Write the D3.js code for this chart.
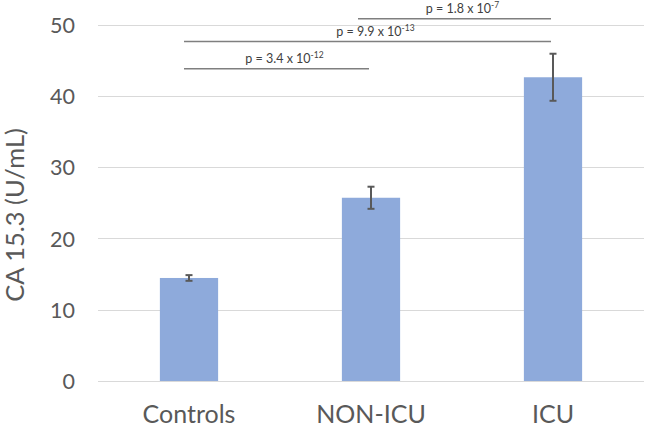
<!DOCTYPE html>
<html><head><meta charset="utf-8">
<script src="https://cdn.jsdelivr.net/npm/d3@7"></script>
<style>body{margin:0;background:#fff}svg{display:block}</style>
</head><body>
<svg id="chart" width="645" height="430"></svg>
<script>
const categories = ["Controls", "NON-ICU", "ICU"];
const means = [14.45, 25.7, 42.6];
const errors = [0.4, 1.55, 3.3];
const yTicks = [0, 10, 20, 30, 40, 50];
const compFrom = ["Controls", "Controls", "NON-ICU"];
const compTo = ["NON-ICU", "ICU", "ICU"];
const compLevel = [43.8, 47.6, 50.8];
const compMantissa = ["3.4", "9.9", "1.8"];
const compExponent = ["-12", "-13", "-7"];
const yTitle = "CA 15.3 (U/mL)";

const svg = d3.select("#chart");
const font = "Lato, 'Open Sans', sans-serif";
const textColor = "#595959";

const x = d3.scaleBand().domain(categories).range([98, 644]).paddingInner(0.68).paddingOuter(0.34);
const y = d3.scaleLinear().domain([0, 50]).range([381, 24.5]);

// gridlines
svg.append("g").selectAll("line").data(yTicks).join("line")
  .attr("x1", 98).attr("x2", 644)
  .attr("y1", d => Math.round(y(d)) + 0.5).attr("y2", d => Math.round(y(d)) + 0.5)
  .attr("stroke", "#d9d9d9").attr("stroke-width", 1.2);

// y axis labels
const yAxis = d3.axisLeft(y).tickValues(yTicks).tickSize(0).tickPadding(0);
const gy = svg.append("g").attr("transform", "translate(75,0)").call(yAxis);
gy.select(".domain").remove();
gy.selectAll("text").attr("font-family", font).attr("font-size", 21.5).attr("fill", textColor).attr("dy", "0.36em");

// x axis labels
const xAxis = d3.axisBottom(x).tickSize(0).tickPadding(0);
const gx = svg.append("g").attr("transform", "translate(0,423)").call(xAxis);
gx.select(".domain").remove();
gx.selectAll("text").attr("font-family", font).attr("font-size", 25).attr("fill", textColor).attr("dy", 0);

// bars
svg.append("g").selectAll("rect").data(categories).join("rect")
  .attr("x", d => x(d)).attr("width", x.bandwidth())
  .attr("y", (d, i) => y(means[i])).attr("height", (d, i) => y(0) - y(means[i]))
  .attr("fill", "#8eaadb");

// error bars
const eb = svg.append("g").attr("stroke", "#595959").attr("stroke-width", 2);
categories.forEach((c, i) => {
  const cx = x(c) + x.bandwidth() / 2;
  const top = y(means[i] + errors[i]), bot = y(means[i] - errors[i]);
  eb.append("line").attr("x1", cx).attr("x2", cx).attr("y1", top).attr("y2", bot);
  eb.append("line").attr("x1", cx - 3.5).attr("x2", cx + 3.5).attr("y1", top).attr("y2", top);
  eb.append("line").attr("x1", cx - 3.5).attr("x2", cx + 3.5).attr("y1", bot).attr("y2", bot);
});

// significance brackets
const sig = svg.append("g");
compFrom.forEach((f, i) => {
  const x1 = x(f) + x.bandwidth() / 2 - (i === 2 ? 13 : 5);
  const x2 = x(compTo[i]) + x.bandwidth() / 2 - 2;
  const ly = y(compLevel[i]);
  sig.append("line").attr("x1", x1).attr("x2", x2).attr("y1", ly).attr("y2", ly)
    .attr("stroke", "#7f7f7f").attr("stroke-width", 1.5);
  const t = sig.append("text").attr("x", (x1 + x2) / 2 + 8).attr("y", ly - 6)
    .attr("text-anchor", "middle").attr("font-family", font).attr("font-size", 12.5).attr("fill", "#404040");
  t.append("tspan").text("p = " + compMantissa[i] + " x 10");
  t.append("tspan").attr("font-size", 8.5).attr("dy", -5).text(compExponent[i]);
});

// y title
svg.append("text").attr("transform", "translate(24,215) rotate(-90)")
  .attr("text-anchor", "middle").attr("font-family", font).attr("font-size", 25.5)
  .attr("fill", textColor).text(yTitle);
</script>
</body></html>
